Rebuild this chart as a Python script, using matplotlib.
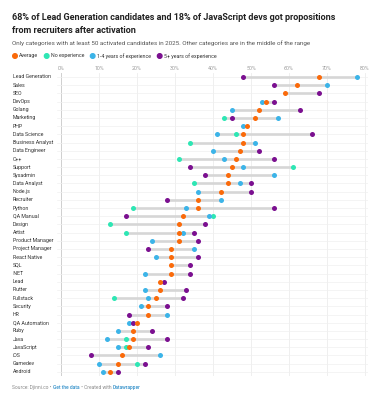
"""
Range plot: share of candidates who got propositions after activation.
"""

import numpy as np
import matplotlib
matplotlib.use("Agg")
import matplotlib.pyplot as plt
import matplotlib.transforms as mtransforms

nan = np.nan

categories = [
    "Lead Generation", "Sales", "SEO", "DevOps", "Golang", "Marketing", "PHP",
    "Data Science", "Business Analyst", "Data Engineer", "C++", "Support",
    "Sysadmin", "Data Analyst", "Node.js", "Recruiter", "Python", "QA Manual",
    "Design", "Artist", "Product Manager", "Project Manager", "React Native",
    "SQL", ".NET", "Lead", "Flutter", "Fullstack", "Security", "HR",
    "QA Automation", "Ruby", "Java", "JavaScript", "iOS", "Gamedev", "Android",
]

average = [68, 62, 59, 54, 52, 51, 49, 48, 48, 47, 46, 45, 44, 44, 42, 36, 36,
           32, 31, 31, 31, 29, 29, 29, 29, 26, 26, 25, 23, 23, 20, 19, 19, 18,
           16, 15, 13]
no_exp = [nan, nan, nan, nan, nan, 43, nan, 46, 34, nan, 31, 61, nan, 35, nan,
          nan, 19, 40, 13, 17, nan, nan, nan, nan, nan, nan, nan, 14, nan, nan,
          nan, nan, 17, 17, nan, 20, nan]
years_1_4 = [78, 70, nan, 53, 45, 57, 48, 41, 51, 40, 43, 48, 56, 47, 36, 42,
             33, 39, nan, 32, 24, 35, 25, nan, 22, nan, 22, 23, 21, 28, 18, 15,
             12, 15, 26, 10, 11]
years_5 = [48, 56, 68, 56, 63, 45, nan, 66, nan, 52, 56, 34, 38, 50, 50, 28,
           56, 17, 38, 35, 36, 23, 36, 34, 34, 27, 33, 32, 28, 18, 19, 24, 28,
           23, 8, 22, 15]

ticks = [0, 10, 20, 30, 40, 50, 60, 70, 80]

C_AVG = "#fa6a0a"
C_NO = "#2ee6b4"
C_14 = "#3cb4e8"
C_5 = "#7b1090"
FONT = "Roboto"

W, H = 382, 404
fig = plt.figure(figsize=(W / 100, H / 100), dpi=100)


def px(x, y):
    return x / W, 1 - y / H


n = len(categories)
ppp = 3.8  # pixels per percent
step = 8.19
top_px, bot_px = 77 - step / 2, 77 + (n - 0.5) * step
ax = fig.add_axes([57 / W, 1 - bot_px / H, (368 - 57) / W, (bot_px - top_px) / H])
ax.set_xlim(-4 / ppp, 80 + 3 / ppp)
ax.set_ylim(n - 0.5, -0.5)
for s in ax.spines.values():
    s.set_visible(False)
ax.set_yticks([])
ax.set_xticks(ticks)
ax.set_xticklabels([f"{t}%" for t in ticks], fontsize=3.8, color="#9a9a9a",
                   family=FONT)
ax.tick_params(axis="x", top=False, bottom=False, labeltop=True,
               labelbottom=False, length=0, pad=1.6)

for t in ticks:
    ax.axvline(t, color="#cfcfcf" if t == 0 else "#ececec",
               lw=0.7 if t == 0 else 0.6, zorder=0)
for i in range(n):
    ax.axhline(i, color="#f0f0f0", lw=0.5, zorder=0)

y = np.arange(n)
series = np.array([average, no_exp, years_1_4, years_5], dtype=float)
lo = np.nanmin(series, axis=0)
hi = np.nanmax(series, axis=0)
ax.hlines(y, lo, hi, color="#d6d6d6", lw=1.9, zorder=1)

ms = 13
ax.scatter(no_exp, y, s=ms, color=C_NO, zorder=3, lw=0)
ax.scatter(years_1_4, y, s=ms, color=C_14, zorder=3, lw=0)
ax.scatter(years_5, y, s=ms, color=C_5, zorder=3, lw=0)
ax.scatter(average, y, s=ms, color=C_AVG, zorder=4, lw=0)

trans = mtransforms.blended_transform_factory(fig.transFigure, ax.transData)
for i, c in enumerate(categories):
    ax.text(13 / W, i, c, transform=trans, fontsize=3.8, color="#333333",
            va="center", ha="left", family=FONT)

fig.text(*px(12, 18),
         "68% of Lead Generation candidates and 18% of JavaScript devs got propositions",
         fontsize=6.5, weight="bold", family=FONT, color="#222222", va="center")
fig.text(*px(12, 30.5), "from recruiters after activation",
         fontsize=6.5, weight="bold", family=FONT, color="#222222", va="center")
fig.text(*px(12.5, 43.3),
         "Only categories with at least 50 activated candidates in 2025. "
         "Other categories are in the middle of the range",
         fontsize=4.5, family=FONT, color="#555555", va="center")

legend = [("Average", C_AVG, 15), ("No experience", C_NO, 46.7),
          ("1-4 years of experience", C_14, 92.7),
          ("5+ years of experience", C_5, 159.7)]
for label, col, x in legend:
    fig.patches.append(matplotlib.patches.Ellipse(
        px(x, 56), 4.6 / W, 4.6 / H, transform=fig.transFigure, color=col))
    fig.text(*px(x + 4, 56), label, fontsize=3.8, family=FONT,
             color="#333333", va="center")

fy = 387.3
parts = [("Source: Djinni.co • ", "#8a8a8a"), ("Get the data", "#2d8dc8"),
         (" • Created with ", "#8a8a8a"), ("Datawrapper", "#2d8dc8")]
fig.canvas.draw()
renderer = fig.canvas.get_renderer()
xpos = 12.5 / W
for txt, col in parts:
    t = fig.text(xpos, 1 - fy / H, txt, fontsize=3.5, family=FONT, color=col,
                 va="center", weight="medium" if col != "#8a8a8a" else "normal")
    bb = t.get_window_extent(renderer)
    xpos += bb.width / W

fig.savefig("out.png", dpi=100)
